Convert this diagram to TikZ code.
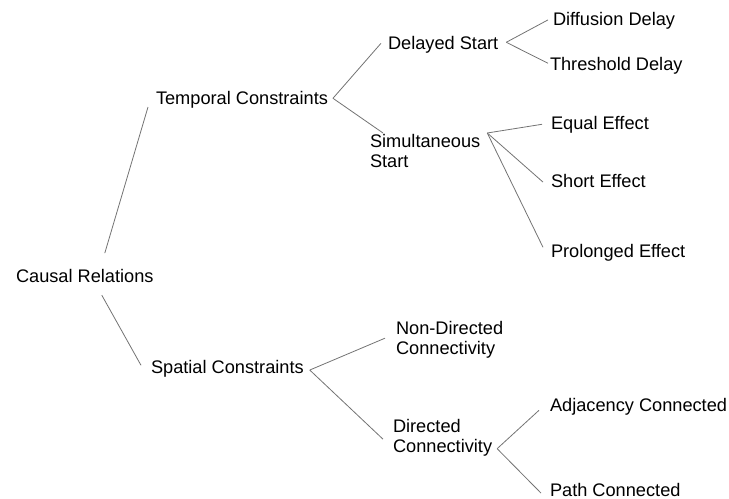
\documentclass[tikz,border=0pt]{standalone}
\usepackage{fontspec}
\setmainfont{Liberation Sans}
\usetikzlibrary{calc}
\begin{document}
\begin{tikzpicture}[x=1bp,y=-1bp,
  lbl/.style={inner sep=0pt, outer sep=0pt, font=\fontsize{18.2bp}{20bp}\selectfont, align=left},
  link/.style={draw=black!55, line width=0.8bp}]
\useasboundingbox (0,0) rectangle (729,499);
% nodes
\node[lbl, anchor=base west] (cr) at (16,283) {Causal Relations};
\node[lbl, anchor=base west] (tc) at (156,105) {Temporal Constraints};
\node[lbl, anchor=base west] (sc) at (151,373) {Spatial Constraints};
\node[lbl, anchor=base west] (ds) at (388,50) {Delayed Start};
\node[lbl, anchor=base west] (dd) at (553,26) {Diffusion Delay};
\node[lbl, anchor=base west] (td) at (550,71) {Threshold Delay};
\node[lbl, anchor=north west] (ss) at (370,134.7) {Simultaneous\\Start};
\node[lbl, anchor=base west] (ee) at (551,130) {Equal Effect};
\node[lbl, anchor=base west] (se) at (551,188) {Short Effect};
\node[lbl, anchor=base west] (pe) at (551,258) {Prolonged Effect};
\node[lbl, anchor=north west] (nd) at (396,321.7) {Non-Directed\\Connectivity};
\node[lbl, anchor=north west] (dc) at (393,419.7) {Directed\\Connectivity};
\node[lbl, anchor=base west] (ac) at (550,411) {Adjacency Connected};
\node[lbl, anchor=base west] (pc) at (550,496) {Path Connected};
% connectors
\draw[link] ($(cr.north)+(20,-16.7)$) -- ($(tc.west)+(-8,6.75)$);
\draw[link] ($(cr.south)+(17,12)$) -- ($(sc.west)+(-10,-3)$);
\draw[link] ($(tc.east)+(5,-2)$) -- ($(ds.west)+(-7,-2)$);
\draw[link] ($(tc.east)+(5,-2)$) -- ($(ss.north west)+(13,-1.7)$);
\draw[link] ($(ds.east)+(8,-3)$) -- ($(dd.west)+(-5,-1.4)$);
\draw[link] ($(ds.east)+(8,-3)$) -- ($(td.west)+(-2,-3)$);
\draw[link] ($(ss.north east)+(7,-1.7)$) -- ($(ee.west)+(-9,-1)$);
\draw[link] ($(ss.north east)+(7,-1.7)$) -- ($(se.west)+(-8,0.6)$);
\draw[link] ($(ss.north east)+(7,-1.7)$) -- ($(pe.west)+(-8,-6)$);
\draw[link] ($(sc.east)+(6,1.75)$) -- ($(nd.west)+(-11,-2)$);
\draw[link] ($(sc.east)+(6,1.75)$) -- ($(dc.west)+(-10,1)$);
\draw[link] ($(dc.south east)+(5,-8)$) -- ($(ac.west)+(-11,4)$);
\draw[link] ($(dc.south east)+(5,-8)$) -- ($(pc.west)+(-9,3.6)$);
\end{tikzpicture}
\end{document}
